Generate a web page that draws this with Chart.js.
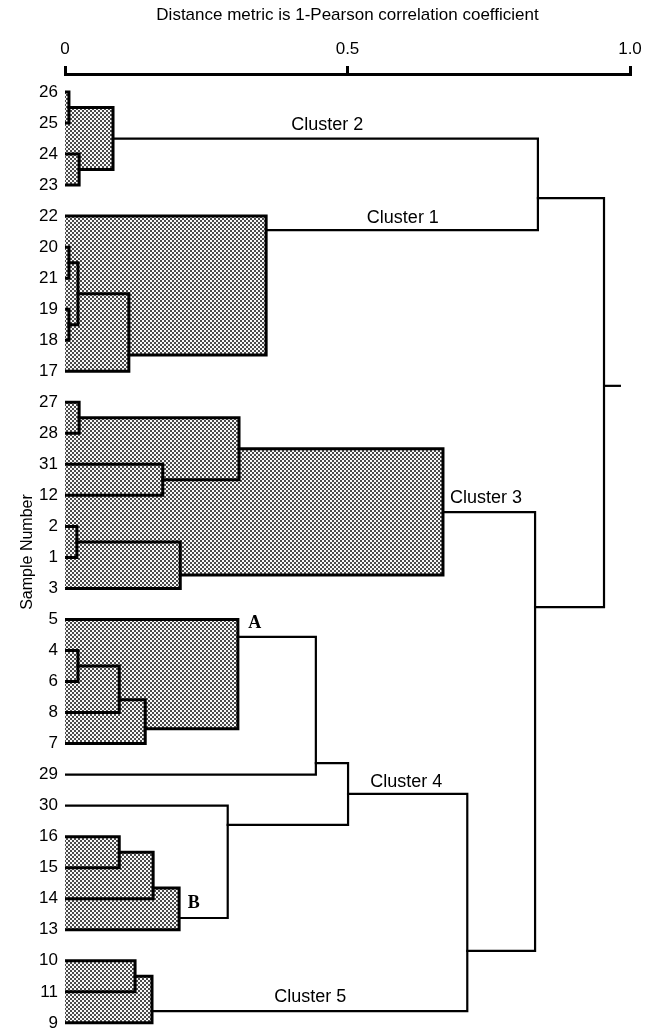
<!DOCTYPE html>
<html>
<head>
<meta charset="utf-8">
<title>Sample dendrogram</title>
<script src="https://cdn.jsdelivr.net/npm/chart.js"></script>
<style>
  html, body { margin: 0; padding: 0; background: #fff; }
  #wrap { position: relative; width: 646px; height: 1032px; }
</style>
</head>
<body>
<div id="wrap"><canvas id="dendrogram"></canvas></div>
<script>
// leaves, top to bottom
var sampleLabels = ['26', '25', '24', '23', '22', '20', '21', '19', '18', '17', '27', '28', '31', '12', '2', '1', '3',
  '5', '4', '6', '8', '7', '29', '30', '16', '15', '14', '13', '10', '11', '9']

var tickValues = [0, 0.5, 1]
var tickLabels = ['0', '0.5', '1.0']

// merges: two children, joining distance, row where the link leaves the node
var mergeNames = ['26+25', '24+23', 'cluster2', '20+21', '19+18', '20..18', '20..17', 'cluster1', 'c1+c2',
  '27+28', '31+12', '27..12', '2+1', '2..3', 'cluster3',
  '4+6', '4..8', '4..7', 'A', 'A+29', '16+15', '16..14', 'B', '30+B', 'cluster4',
  '10+11', 'cluster5', 'c4+c5', 'c3..c5', 'root']
var mergeFirst = ['26', '24', '26+25', '20', '19', '20+21', '20..18', '22', 'cluster2',
  '27', '31', '27+28', '2', '2+1', '27..12',
  '4', '4+6', '4..8', '5', 'A', '16', '16+15', '16..14', '30', 'A+29',
  '10', '10+11', 'cluster4', 'cluster3', 'c1+c2']
var mergeSecond = ['25', '23', '24+23', '21', '18', '19+18', '17', '20..17', 'cluster1',
  '28', '12', '31+12', '1', '3', '2..3',
  '6', '8', '7', '4..7', '29', '15', '14', '13', 'B', '30+B',
  '11', '9', 'cluster5', 'c4+c5', 'c3..c5']
var mergeDistance = [0.007, 0.025, 0.085, 0.007, 0.007, 0.023, 0.113, 0.356, 0.837,
  0.025, 0.173, 0.308, 0.021, 0.204, 0.669,
  0.023, 0.096, 0.142, 0.306, 0.444, 0.096, 0.156, 0.202, 0.288, 0.501,
  0.124, 0.154, 0.712, 0.832, 0.954]
var mergeRow = [0.5, 2.5, 1.5, 5.5, 7.5, 6.5, 8.48, 4.45, 3.42,
  10.5, 12.5, 11.5, 14.5, 15.57, 13.54,
  18.5, 19.59, 20.52, 17.56, 21.63, 24.5, 25.65, 26.62, 23.62, 22.62,
  28.5, 29.62, 27.68, 16.6, 9.47]
var mergeShaded = [true, true, true, true, true, true, true, true, false,
  true, true, true, true, true, true,
  true, true, true, true, false, true, true, true, false, false,
  true, true, false, false, false]
var rootTail = 0.984

var noteTexts = ['Cluster 2', 'Cluster 1', 'Cluster 3', 'Cluster 4', 'Cluster 5', 'A', 'B']
var noteX = [0.464, 0.598, 0.745, 0.604, 0.434, 0.336, 0.228]
var noteRow = [1.06, 4.06, 13.08, 22.24, 29.17, 17.11, 26.14]

function nodeRow (name) {
  var i = mergeNames.indexOf(name)
  return i >= 0 ? mergeRow[i] : sampleLabels.indexOf(name)
}

function nodeDistance (name) {
  var i = mergeNames.indexOf(name)
  return i >= 0 ? mergeDistance[i] : 0
}

function stipple () {
  var tile = document.createElement('canvas')
  tile.width = 4
  tile.height = 4
  var c = tile.getContext('2d')
  c.fillStyle = '#f8f8f8'
  c.fillRect(0, 0, 4, 4)
  c.fillStyle = '#4a4a4a'
  c.fillRect(0, 0, 2, 2)
  c.fillRect(2, 2, 2, 2)
  return c.createPattern(tile, 'repeat')
}

function buildDatasets () {
  var pattern = stipple()
  var sets = []
  for (var i = 0; i < mergeNames.length; i++) {
    var d = mergeDistance[i]
    var r1 = nodeRow(mergeFirst[i])
    var r2 = nodeRow(mergeSecond[i])
    if (mergeShaded[i]) {
      sets.push({
        data: [{x: 0, y: r1}, {x: d, y: r1}, {x: d, y: r2}, {x: 0, y: r2}],
        fill: 'shape',
        backgroundColor: pattern,
        borderWidth: 0,
        pointRadius: 0,
        order: 2
      })
    }
    sets.push({
      data: [
        {x: nodeDistance(mergeFirst[i]), y: r1}, {x: d, y: r1},
        {x: d, y: r2}, {x: nodeDistance(mergeSecond[i]), y: r2}
      ],
      borderColor: '#000',
      borderWidth: mergeShaded[i] ? 3 : 2.2,
      borderCapStyle: 'square',
      borderJoinStyle: 'miter',
      fill: false,
      pointRadius: 0,
      order: 1
    })
  }
  var root = mergeNames.length - 1
  sets.push({
    data: [{x: mergeDistance[root], y: mergeRow[root]}, {x: rootTail, y: mergeRow[root]}],
    borderColor: '#000',
    borderWidth: 2.2,
    fill: false,
    pointRadius: 0,
    order: 1
  })
  return sets
}

var notesPlugin = {
  id: 'notes',
  afterDatasetsDraw: function (chart) {
    var ctx = chart.ctx
    var xs = chart.scales.x
    var ys = chart.scales.y
    ctx.save()
    ctx.fillStyle = '#000'
    ctx.textAlign = 'center'
    ctx.textBaseline = 'middle'
    for (var i = 0; i < noteTexts.length; i++) {
      if (noteTexts[i].length === 1) {
        ctx.font = 'bold 18px "Liberation Serif", "Times New Roman", serif'
      } else {
        ctx.font = '18px "Liberation Sans", Arial, sans-serif'
      }
      ctx.fillText(noteTexts[i], xs.getPixelForValue(noteX[i]), ys.getPixelForValue(noteRow[i]))
    }
    ctx.restore()
  }
}

Chart.defaults.font.family = '"Liberation Sans", Arial, Helvetica, sans-serif'
Chart.defaults.color = '#000'

var ctx = document.getElementById('dendrogram').getContext('2d')
new Chart(ctx, {
  type: 'line',
  data: { datasets: buildDatasets() },
  options: {
    animation: false,
    responsive: true,
    maintainAspectRatio: false,
    events: [],
    layout: { autoPadding: false, padding: { left: 0, right: 16, top: 0, bottom: 2 } },
    plugins: { legend: { display: false }, tooltip: { enabled: false } },
    scales: {
      x: {
        type: 'linear',
        position: 'top',
        min: 0,
        max: 1,
        afterBuildTicks: function (axis) {
          axis.ticks = tickValues.map(function (v) { return {value: v} })
        },
        afterFit: function (axis) {
          axis.height = 74
          axis.paddingLeft = 0
          axis.paddingRight = 0
        },
        ticks: {
          font: { size: 17 },
          padding: 6,
          maxRotation: 0,
          callback: function (value, index) { return tickLabels[index] }
        },
        grid: { drawOnChartArea: false, drawTicks: true, tickLength: 8, color: '#000', lineWidth: 3 },
        border: { display: true, color: '#000', width: 3 },
        title: {
          display: true,
          text: 'Distance metric is 1-Pearson correlation coefficient',
          font: { size: 17 },
          padding: { top: 5, bottom: 0 }
        }
      },
      y: {
        type: 'linear',
        reverse: true,
        min: -0.58,
        max: 30.23,
        afterBuildTicks: function (axis) {
          axis.ticks = sampleLabels.map(function (s, i) { return {value: i} })
        },
        afterFit: function (axis) {
          axis.width = 65
          axis.paddingTop = 0
          axis.paddingBottom = 0
        },
        ticks: {
          font: { size: 17 },
          padding: 7,
          autoSkip: false,
          callback: function (value) { return sampleLabels[value] }
        },
        grid: { display: false, drawTicks: false },
        border: { display: false },
        title: {
          display: true,
          text: 'Sample Number',
          font: { size: 16 },
          padding: { top: 18, bottom: 0 }
        }
      }
    }
  },
  plugins: [notesPlugin]
})
</script>
</body>
</html>
